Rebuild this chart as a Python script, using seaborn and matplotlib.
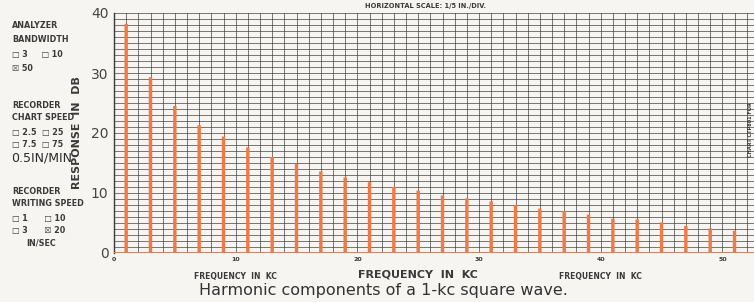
import matplotlib
matplotlib.use("Agg")
import matplotlib.pyplot as plt
from matplotlib.ticker import MultipleLocator
import seaborn as sns
import pandas as pd

# odd harmonics of a 1-kc square wave, levels (dB)
harmonic_kc = [1, 3, 5, 7, 9, 11, 13, 15, 17, 19, 21, 23, 25,
               27, 29, 31, 33, 35, 37, 39, 41, 43, 45, 47, 49, 51]
level_db = [38.2, 29.3, 24.5, 21.3, 19.4, 17.6, 16.0, 14.9, 13.6, 12.6, 11.8, 11.0, 10.4,
            9.6, 9.1, 8.6, 8.0, 7.4, 7.0, 6.4, 5.7, 5.6, 5.1, 4.5, 4.1, 3.7]
y_ticks = [0, 10, 20, 30, 40]
x_ticks = [0, 10, 20, 30, 40, 50]

df = pd.DataFrame({"kc": harmonic_kc, "db": level_db})

orange = "#ef7a48"
ink = "#3a3a3a"
paper = "#f6f5f1"

sns.set_style("white")
plt.rcParams["font.family"] = ["DejaVu Sans"]

fig = plt.figure(figsize=(7.54, 3.02), dpi=100, facecolor=paper)
ax = fig.add_axes([114 / 754, 49 / 302, 1 - 114 / 754, 240 / 302])
ax.set_facecolor(paper)

sns.barplot(data=df, x="kc", y="db", native_scale=True, width=0.14,
            color=orange, saturation=1, edgecolor="none", ax=ax, zorder=3)
# no pixel snapping, so every spike comes out the same width
for p in ax.patches:
    p.set_snap(False)

ax.axhline(0, color=orange, lw=2.2, zorder=4)

ax.set_xlim(0, 52.6)
ax.set_ylim(0, 40)
ax.xaxis.set_minor_locator(MultipleLocator(1))
ax.yaxis.set_minor_locator(MultipleLocator(1))
ax.grid(which="both", color="#3c3c3c", lw=0.6, alpha=0.8, zorder=0)
ax.set_axisbelow(True)

for s in ["top", "right", "bottom"]:
    ax.spines[s].set_visible(False)
ax.spines["left"].set_color(ink)
ax.spines["left"].set_linewidth(1.0)

ax.set_yticks(y_ticks)
ax.set_yticklabels([str(v) for v in y_ticks], fontsize=10, color="#444444")
ax.set_xticks(x_ticks)
ax.set_xticklabels([str(v) for v in x_ticks], fontsize=4.5, color=ink, fontweight="bold")
ax.tick_params(axis="y", length=3, pad=1, color=ink)
ax.tick_params(axis="x", length=0, pad=3)
ax.tick_params(which="minor", length=0)
ax.set_xlabel("")
ax.set_ylabel("RESPONSE  IN  DB", fontsize=8, fontweight="bold", color=ink, labelpad=6)

# frequency labels under the axis
ax.text(10, -3.2, "FREQUENCY  IN  KC", ha="center", va="top", fontsize=5.5,
        fontweight="bold", color=ink)
ax.text(25, -2.7, "FREQUENCY  IN  KC", ha="center", va="top", fontsize=8,
        fontweight="bold", color=ink)
ax.text(40, -3.2, "FREQUENCY  IN  KC", ha="center", va="top", fontsize=5.5,
        fontweight="bold", color=ink)

fig.text(425 / 754, 1 - 6 / 302, "HORIZONTAL SCALE: 1/5 IN./DIV.", ha="center",
         va="center", fontsize=4.8, fontweight="bold", color=ink)
fig.text(750 / 754, 1 - 130 / 302, "CHART CTP801 FOR", ha="center", va="center",
         rotation=90, fontsize=3.6, fontweight="bold", color=ink)

fig.text(383 / 754, 1 - 291 / 302, "Harmonic components of a 1-kc square wave.",
         ha="center", va="center", fontsize=11.5, color="#333333")

# settings panel on the left
panel = [
    (12, 26, "ANALYZER"),
    (12, 40, "BANDWIDTH"),
    (12, 54, "\u25a1 3     \u25a1 10"),
    (12, 68, "\u2612 50"),
    (12, 105, "RECORDER"),
    (12, 118, "CHART SPEED"),
    (12, 132, "\u25a1 2.5  \u25a1 25"),
    (12, 145, "\u25a1 7.5  \u25a1 75"),
    (12, 191, "RECORDER"),
    (12, 204, "WRITING SPEED"),
    (12, 218, "\u25a1 1      \u25a1 10"),
    (12, 231, "\u25a1 3      \u2612 20"),
    (26, 243, "IN/SEC"),
]
for x, y, s in panel:
    fig.text(x / 754, 1 - y / 302, s, ha="left", va="center", fontsize=5.8,
             fontweight="bold", color=ink)
fig.text(11 / 754, 1 - 158 / 302, "0.5IN/MIN", ha="left", va="center",
         fontsize=9, color="#2a2a2a")

fig.savefig("out.png", dpi=100, facecolor=paper)
